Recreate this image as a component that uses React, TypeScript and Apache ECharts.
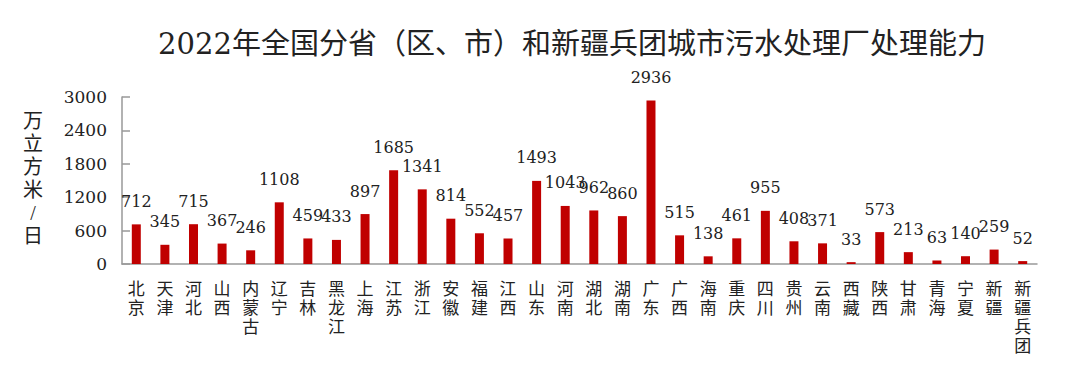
import React, { useEffect, useRef } from "react";
import * as echarts from "echarts";

const categories = ["北京","天津","河北","山西","内蒙古","辽宁","吉林","黑龙江","上海","江苏","浙江","安徽","福建","江西","山东","河南","湖北","湖南","广东","广西","海南","重庆","四川","贵州","云南","西藏","陕西","甘肃","青海","宁夏","新疆","新疆兵团"];
const capacity = [712,345,715,367,246,1108,459,433,897,1685,1341,814,552,457,1493,1043,962,860,2936,515,138,461,955,408,371,33,573,213,63,140,259,52];
const titleText = "2022年全国分省（区、市）和新疆兵团城市污水处理厂处理能力";
const yAxisName = "万立方米/日";

const NUM_FONT = "DejaVu Serif";
const CJK_FONT = "Liberation Serif, Noto Sans CJK SC";
const TITLE_FONT = "DejaVu Serif, Noto Sans CJK SC";

export default function App() {
  const ref = useRef<HTMLDivElement>(null);
  useEffect(() => {
    if (!ref.current) return;
    const chart = echarts.init(ref.current, null, { renderer: "svg" });
    chart.setOption({
      animation: false,
      backgroundColor: "#ffffff",
      title: {
        text: titleText,
        left: 567,
        top: 24,
        textAlign: "center",
        textStyle: { fontFamily: TITLE_FONT, fontSize: 29, fontWeight: "normal", color: "#222" },
      },
      graphic: [
        {
          type: "text",
          x: 33,
          y: 178,
          style: {
            text: yAxisName.split("").join("\n"),
            fontFamily: CJK_FONT,
            fontSize: 20,
            lineHeight: 23,
            fill: "#222",
            align: "center",
            verticalAlign: "middle",
          },
        },
      ],
      grid: { left: 122, right: 43, top: 97, bottom: 125, containLabel: false },
      xAxis: {
        type: "category",
        data: categories,
        axisLine: { lineStyle: { color: "#999", width: 1.5 } },
        axisTick: { show: false },
        axisLabel: {
          interval: 0,
          margin: 16,
          fontFamily: CJK_FONT,
          fontSize: 17,
          lineHeight: 19,
          color: "#222",
          verticalAlign: "top",
          formatter: (v: string) => v.split("").join("\n"),
        },
      },
      yAxis: {
        type: "value",
        min: 0,
        max: 3000,
        interval: 600,
        splitLine: { show: false },
        axisLine: { show: true, lineStyle: { color: "#999", width: 1.5 } },
        axisTick: { show: true, inside: true, length: 8, lineStyle: { color: "#999", width: 1.5 } },
        axisLabel: {
          margin: 15,
          fontFamily: NUM_FONT,
          fontSize: 17,
          color: "#222",
          formatter: (v: number) => String(v),
        },
      },
      series: [
        {
          type: "bar",
          data: capacity,
          barWidth: 9,
          itemStyle: { color: "#C00000" },
          label: {
            show: true,
            position: "top",
            distance: 15,
            fontFamily: NUM_FONT,
            fontSize: 16,
            color: "#222",
          },
        },
      ],
    });
    return () => chart.dispose();
  }, []);
  return <div ref={ref} style={{ width: 1080, height: 389, position: "absolute", left: 0, top: 0 }} />;
}
